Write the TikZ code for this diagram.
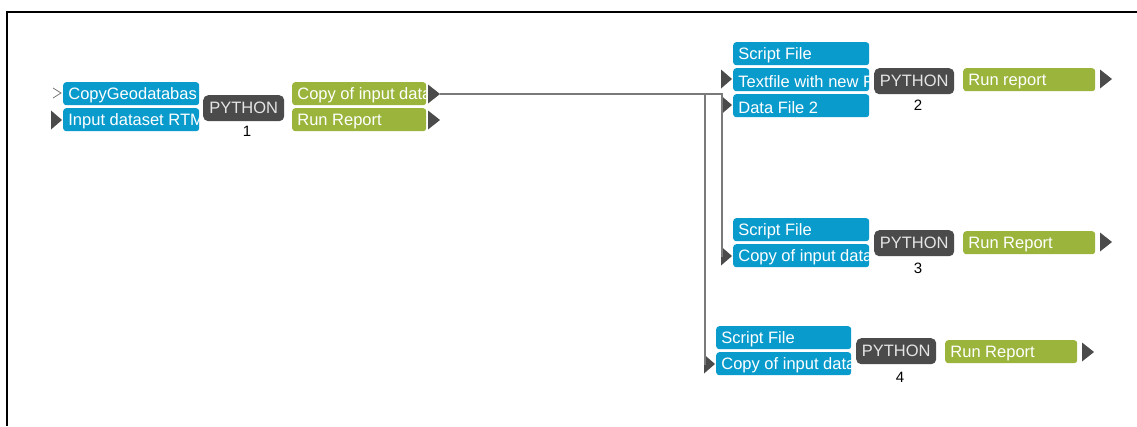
\documentclass[tikz,border=0pt]{standalone}
\usepackage{fontspec}
\newfontfamily\uifont{Liberation Sans}
\definecolor{cblue}{HTML}{0A9BCD}
\definecolor{cgreen}{HTML}{9BB53C}
\definecolor{cdark}{HTML}{4B4B4B}
\definecolor{cwire}{HTML}{7A7A7A}
\tikzset{
  box/.style={rounded corners=3pt, inner sep=0pt, anchor=north west, minimum height=23pt},
  lbl/.style={path picture={\node[anchor=west, inner sep=0pt, minimum width=0pt,
      minimum height=0pt, fill=none, sharp corners, text=white,
      font=\uifont\fontsize{16.5}{19}\selectfont] at ([xshift=5pt,yshift=-1.5pt]path picture bounding box.west) {#1};}},
  inbox/.style={box, fill=cblue, minimum width=136pt, lbl={#1}},
  outbox/.style={box, fill=cgreen, minimum width=132pt, lbl={#1}},
  toolbox/.style={rounded corners=5pt, inner sep=0pt, anchor=north west, fill=cdark,
      minimum width=80pt, minimum height=26pt, text=white!90!black,
      font=\uifont\fontsize{16.5}{19}\selectfont},
  numlbl/.style={font=\uifont\fontsize{15}{17}\selectfont, text=black, inner sep=0pt},
  pin/.style={fill=cdark},
  wire/.style={draw=cwire, line width=1.1pt},
}
% input pin: base at #2, tip pointing right
\newcommand\inpin[2]{\coordinate (#1) at (#2);
  \fill[pin] ([yshift=9.5pt]#1) -- ([xshift=11pt]#1) -- ([yshift=-9.5pt]#1) -- cycle;}
% output pin: base at #2, tip (named #1) pointing right
\newcommand\outpin[2]{\coordinate (#1b) at (#2);
  \coordinate (#1) at ([xshift=12pt]#1b);
  \fill[pin] ([yshift=9.5pt]#1b) -- (#1) -- ([yshift=-9.5pt]#1b) -- cycle;}
\begin{document}
\begin{tikzpicture}[x=1pt,y=-1pt]
\useasboundingbox (0,0) rectangle (1137,426);
\draw[line width=2pt] (7,426) -- (7,12) -- (1137,12);

% tool 1
\node[inbox={CopyGeodatabas}] (a1) at (63,82) {};
\node[inbox={Input dataset RTM}] (a2) at (63,108) {};
\node[toolbox, minimum width=81pt] (py1) at (203,95) {PYTHON};
\node[numlbl] (n1) at (247,131) {1};
\node[outbox={Copy of input data}, minimum width=134pt] (b1) at (292,82) {};
\node[outbox={Run Report}, minimum width=134pt] (b2) at (292,108) {};
\coordinate (chev) at (61,93);
\draw[cwire, line width=0.8pt] ([shift={(-8pt,-5pt)}]chev) -- (chev) -- ([shift={(-8pt,5pt)}]chev);
\inpin{ia2}{51,120}
\outpin{ob1}{428,94}
\outpin{ob2}{428,120}

% tool 2
\node[inbox={Script File}] (c1) at (733,42) {};
\node[inbox={Textfile with new F}] (c2) at (733,68) {};
\node[inbox={Data File 2}] (c3) at (733,94) {};
\node[toolbox] (py2) at (874,68) {PYTHON};
\node[numlbl] (n2) at (918,105) {2};
\node[outbox={Run report}] (d1) at (963,68) {};
\inpin{ic2}{721,79}
\inpin{ic3}{721,105}
\outpin{od1}{1100,79}

% tool 3
\node[inbox={Script File}] (e1) at (733,218) {};
\node[inbox={Copy of input data}] (e2) at (733,244) {};
\node[toolbox] (py3) at (874,230) {PYTHON};
\node[numlbl] (n3) at (918,268) {3};
\node[outbox={Run Report}] (f1) at (963,231) {};
\inpin{ie2}{721,256}
\outpin{of1}{1100,242}

% tool 4
\node[inbox={Script File}, minimum width=135pt] (g1) at (716,326) {};
\node[inbox={Copy of input data}, minimum width=135pt] (g2) at (716,352) {};
\node[toolbox] (py4) at (856,338) {PYTHON};
\node[numlbl] (n4) at (900,377) {4};
\node[outbox={Run Report}] (h1) at (945,340) {};
\inpin{ig2}{704,364}
\outpin{oh1}{1082,352}

% connectors from the copied dataset
\coordinate (j4) at (705,364);
\coordinate (j2) at (722,105);
\coordinate (j3) at (722,256);
\draw[wire] (ob1) -| (j4) -- (ig2);
\draw[wire] (ob1) -| (j3) -- (ie2);
\draw[wire] (ob1) -| (j2) -- (ic3);
\end{tikzpicture}
\end{document}
